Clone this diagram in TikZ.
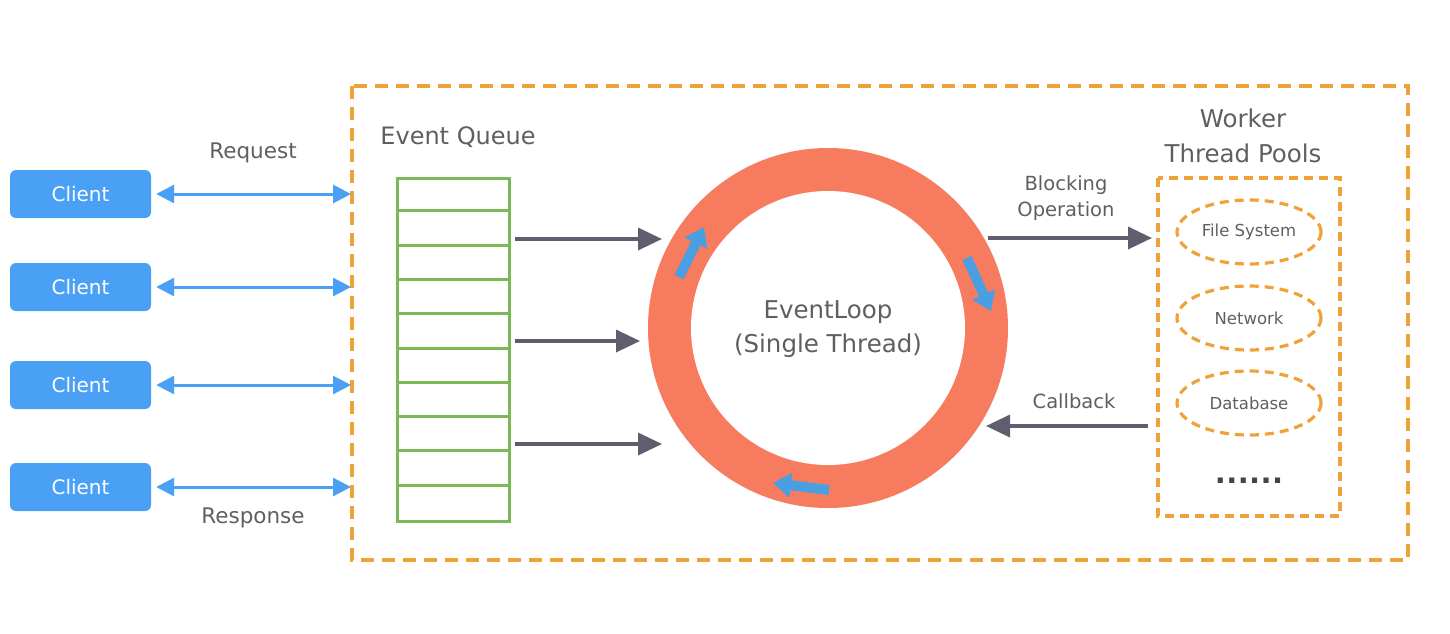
\documentclass[tikz,border=0pt]{standalone}
\usepackage{fontspec}
\setmainfont{DejaVu Sans}
\usetikzlibrary{arrows.meta,calc,shapes.geometric}
\definecolor{orng}{HTML}{EFA23A}
\definecolor{cblue}{HTML}{4AA0F5}
\definecolor{qgreen}{HTML}{7DB858}
\definecolor{agray}{HTML}{5E5E6E}
\definecolor{tgray}{HTML}{5F5F5F}
\definecolor{salmon}{HTML}{F77B5F}
\definecolor{rblue}{HTML}{4A9FE3}
\definecolor{dotgray}{HTML}{444444}
\newcommand{\fs}[1]{\fontsize{#1pt}{#1pt}\selectfont}
\begin{document}
\begin{tikzpicture}[x=1pt,y=-1pt,
  client/.style={draw=none,fill=cblue,rounded corners=6pt,minimum width=141pt,minimum height=48pt,text=white,font=\fs{20},inner sep=0pt},
  lbl/.style={text=tgray,inner sep=0pt},
  biarrow/.style={draw=cblue,line width=3pt,{Triangle[length=18pt,width=18pt]}-{Triangle[length=18pt,width=18pt]}},
  garrow/.style={draw=agray,line width=3.5pt,-{Triangle[length=24pt,width=22pt]}},
  rarrow/.style={draw=rblue,line width=10pt,-{Triangle[length=18pt,width=24pt]}},
  odash/.style={draw=orng,line width=3.2pt,dash pattern=on 13pt off 8pt},
  edash/.style={draw=orng,line width=3.2pt,dash pattern=on 9pt off 6pt},
  worker/.style={ellipse,edash,minimum width=144pt,minimum height=64pt,text=tgray,font=\fs{16.5},inner sep=0pt}
]
\useasboundingbox (0,0) rectangle (1450,633);
% outer box
\draw[odash] (352,86) rectangle (1408,560);
% clients
\node[client] (c1) at (80.5,194) {Client};
\node[client] (c2) at (80.5,287) {Client};
\node[client] (c3) at (80.5,385) {Client};
\node[client] (c4) at (80.5,487) {Client};
\coordinate (e1) at (351,194);
\coordinate (e2) at (351,287);
\coordinate (e3) at (351,385);
\coordinate (e4) at (351,487);
\draw[biarrow] ([xshift=5pt]c1.east) -- (e1);
\draw[biarrow] ([xshift=5pt]c2.east) -- (e2);
\draw[biarrow] ([xshift=5pt]c3.east) -- (e3);
\draw[biarrow] ([xshift=5pt]c4.east) -- (e4);
\node[lbl,font=\fs{21.5}] (req) at (253,153) {Request};
\node[lbl,font=\fs{21.5}] (resp) at (253,518) {Response};
% event queue
\node[lbl,font=\fs{24}] (eq) at (458,137) {Event Queue};
\node[draw=qgreen,line width=3pt,minimum width=112pt,minimum height=343pt,inner sep=0pt] (q) at (453,349.5) {};
\foreach \i in {1,...,9}{
  \draw[qgreen,line width=3pt] ($(q.north west)+(0,34.3*\i)$) -- ($(q.north east)+(0,34.3*\i)$);
}
% ring
\node[circle,fill=salmon,minimum size=360pt,inner sep=0pt] (ring) at (828,328) {};
\node[circle,fill=white,minimum size=274pt,inner sep=0pt] (inner) at (828,328) {};
\node[lbl,font=\fs{24.5},align=center] (el) at (828,329) {EventLoop\\[10pt](Single Thread)};
% queue -> ring
\coordinate (q1) at (515,239); \coordinate (t1) at (662,239);
\coordinate (q2) at (515,341); \coordinate (t2) at (640,341);
\coordinate (q3) at (515,444); \coordinate (t3) at (662,444);
\draw[garrow] (q1) -- (t1);
\draw[garrow] (q2) -- (t2);
\draw[garrow] (q3) -- (t3);
% ring arrows
\coordinate (a1s) at (679,277); \coordinate (a1e) at (704,227);
\coordinate (a2s) at (967,258); \coordinate (a2e) at (991,311);
\coordinate (a3s) at (829,490); \coordinate (a3e) at (773,483);
\draw[rarrow] (a1s) -- (a1e);
\draw[rarrow] (a2s) -- (a2e);
\draw[rarrow] (a3s) -- (a3e);
% worker pool
\node[lbl,font=\fs{24.5},align=center] (wt) at (1243,136) {Worker\\[10pt]Thread Pools};
\draw[edash] (1158,178) rectangle (1340,516);
\node[worker] (fs) at (1249,232) {File System};
\node[worker] (nw) at (1249,318) {Network};
\node[worker] (db) at (1249,403) {Database};
\node[text=dotgray,font=\bfseries\fs{29},inner sep=0pt] (dots) at (1249,481) {.\kern0.4pt.\kern0.4pt.\kern0.4pt.\kern0.4pt.\kern0.4pt.};
% blocking / callback
\coordinate (b1) at (988,238); \coordinate (b2) at (1152,238);
\draw[garrow] (b1) -- (b2);
\node[lbl,font=\fs{19.5},align=center] (bo) at (1066,198) {Blocking\\[7pt]Operation};
\coordinate (cb1) at (1148,426); \coordinate (cb2) at (986,426);
\draw[garrow] (cb1) -- (cb2);
\node[lbl,font=\fs{19.5}] (cbl) at (1074,401) {Callback};
\end{tikzpicture}
\end{document}
